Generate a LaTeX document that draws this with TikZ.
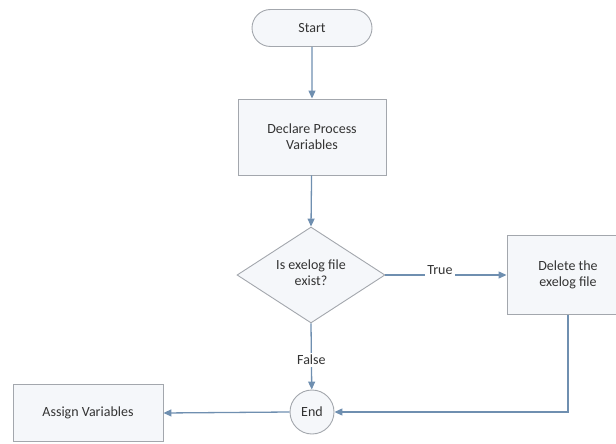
\documentclass[tikz,border=0pt]{standalone}
\usepackage{fontspec}
\setmainfont{Carlito}
\usetikzlibrary{shapes.geometric,shapes.misc,arrows.meta}
\definecolor{lineblue}{HTML}{6F8FB0}
\definecolor{boxgray}{HTML}{A3A7AD}
\definecolor{boxfill}{HTML}{F5F7FA}
\definecolor{txt}{HTML}{333333}
\tikzset{
  shapebase/.style={draw=boxgray, fill=boxfill, line width=0.9pt, text=txt, font=\fontsize{14}{16}\selectfont, align=center},
  procbox/.style={shapebase, rectangle, inner sep=0pt},
  termbox/.style={shapebase, rounded rectangle, inner sep=0pt},
  decbox/.style={shapebase, diamond, inner sep=0pt},
  endcirc/.style={shapebase, circle, inner sep=0pt},
  flow/.style={draw=lineblue, line width=1.3pt, -{Triangle[length=8pt,width=7pt]}},
  lbl/.style={text=txt, font=\fontsize{14}{16}\selectfont, fill=white, inner sep=2pt}
}
\begin{document}
\begin{tikzpicture}[x=1pt,y=-1pt]
\useasboundingbox (0,0) rectangle (616,444);
\clip (0,0) rectangle (616,444);
\node[termbox, minimum width=120pt, minimum height=37pt] (start) at (312,28) {Start};
\node[procbox, minimum width=148pt, minimum height=76pt] (declare) at (312,137) {Declare Process\\Variables};
\node[decbox, minimum width=148pt, minimum height=96pt] (dec) at (311,275) {};
\node[text=txt, font=\fontsize{14}{16}\selectfont, align=center] (dectext) at (311,273) {Is exelog file\\exist?};
\node[procbox, minimum width=122pt, minimum height=79pt] (delete) at (568,275) {Delete the\\exelog file};
\node[endcirc, minimum size=44pt] (end) at (312,412) {End};
\node[procbox, minimum width=150pt, minimum height=57pt] (assign) at (88,413) {Assign Variables};
\coordinate (corner) at (568,412);

\draw[flow] (start) -- (declare);
\draw[flow] (declare) -- (dec.north);
\draw[flow] (dec.east) -- node[lbl, pos=0.45, yshift=5pt] (truelbl) {True} (delete.west);
\draw[flow] (dec.south) -- node[lbl, pos=0.55] (falselbl) {False} (end);
\draw[flow] (delete.south) -- (corner) -- (end.east);
\draw[flow] (end.west) -- (assign.east);
\end{tikzpicture}
\end{document}
